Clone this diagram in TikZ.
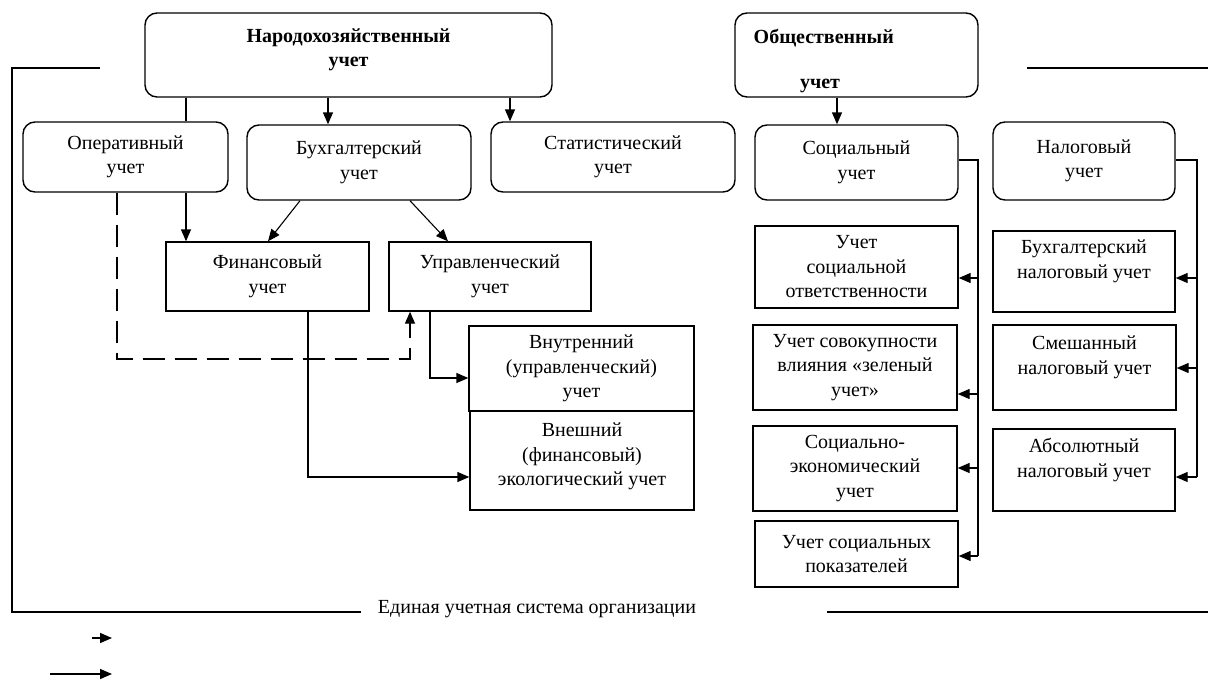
\documentclass[tikz,border=0pt]{standalone}
\usepackage{fontspec}
\setmainfont{Liberation Serif}
\usetikzlibrary{arrows.meta,calc}
\newcommand{\txtfont}{\fontsize{20}{24.5}\selectfont}
\begin{document}
\begin{tikzpicture}[x=1pt,y=-1pt, line width=1.4pt,
  every node/.style={font=\txtfont, inner sep=0pt, align=center},
  rbox/.style={draw, rounded corners=12pt, line width=1.4pt},
  sbox/.style={draw, line width=1.4pt},
  boldtxt/.style={font=\txtfont\bfseries},
  arr/.style={-{Triangle[length=12pt,width=10pt]}},
  dsh/.style={dash pattern=on 22pt off 10pt}]
\fill[white] (0,0) rectangle (1208,680);
\useasboundingbox (0,0) rectangle (1208,680);

% top level
\node[rbox, boldtxt, minimum width=407pt, minimum height=84pt] (nar) at (348.5,55) {Народохозяйственный\\учет\\[-10pt]\mbox{}};
\node[rbox, minimum width=243pt, minimum height=84pt] (obsh) at (856.5,55) {};
\node[boldtxt, anchor=west] (obshA) at (753,38) {Общественный};
\node[boldtxt] (obshB) at (820,86) {учет};

% second row
\node[rbox, minimum width=205pt, minimum height=70pt] (oper) at (125.5,157) {Оперативный\\учет};
\node[rbox, minimum width=224pt, minimum height=75pt] (buh) at (359,162.5) {Бухгалтерский\\учет};
\node[rbox, minimum width=244pt, minimum height=70pt] (stat) at (613,157) {Статистический\\учет};
\node[rbox, minimum width=203pt, minimum height=75pt] (soc) at (856.5,162.5) {Социальный\\учет};
\node[rbox, minimum width=182pt, minimum height=78pt] (nal) at (1084,161) {Налоговый\\учет};

% accounting subtree
\node[sbox, minimum width=203pt, minimum height=69pt] (fin) at (267.5,276.5) {Финансовый\\учет};
\node[sbox, minimum width=202pt, minimum height=69pt] (upr) at (490,276.5) {Управленческий\\учет};
\node[sbox, minimum width=225pt, minimum height=85pt] (vnut) at (581.5,368.5) {Внутренний\\(управленческий)\\учет};
\node[sbox, minimum width=224pt, minimum height=99pt] (vnesh) at (582,460.5) {Внешний\\(финансовый)\\экологический учет\\[-12pt]\mbox{}};

% social subtree
\node[sbox, minimum width=203pt, minimum height=82pt] (sotv) at (856.5,267) {Учет\\социальной\\ответственности};
\node[sbox, minimum width=204pt, minimum height=85pt] (sgreen) at (855,367.5) {Учет совокупности\\влияния «зеленый\\учет»};
\node[sbox, minimum width=204pt, minimum height=85pt] (sekon) at (855,468.5) {Социально-\\экономический\\учет};
\node[sbox, minimum width=203pt, minimum height=66pt] (spok) at (856.5,554) {Учет социальных\\показателей};

% tax subtree
\node[sbox, minimum width=182pt, minimum height=81pt] (nbuh) at (1084,271.5) {Бухгалтерский\\налоговый учет\\\mbox{}};
\node[sbox, minimum width=183pt, minimum height=85pt] (nsm) at (1084.5,367.5) {Смешанный\\налоговый учет\\\mbox{}};
\node[sbox, minimum width=182pt, minimum height=82pt] (nabs) at (1084,470) {Абсолютный\\налоговый учет\\\mbox{}};

% helper coordinates
\coordinate (c186) at (186,0);
\coordinate (c328) at (328,0);
\coordinate (c510) at (510,0);
\coordinate (c837) at (837,0);
\coordinate (b1) at (300,0);
\coordinate (f1) at (268,0);
\coordinate (b2) at (410,0);
\coordinate (u0) at (448,0);
\coordinate (d1) at (117,359);
\coordinate (d2) at (410,359);
\coordinate (u1) at (430,378);
\coordinate (f2) at (308,477);
\coordinate (s0) at (978,160);
\coordinate (s1) at (978,278);
\coordinate (s2) at (978,394);
\coordinate (s3) at (978,468);
\coordinate (s4) at (978,556);
\coordinate (t0) at (1197,160);
\coordinate (t1) at (1197,278);
\coordinate (t2) at (1197,368);
\coordinate (t3) at (1197,477);

% connectors from top
\draw (nar.south -| c186) -- (oper.north -| c186);
\draw[arr] (nar.south -| c328) -- (buh.north -| c328);
\draw[arr] (nar.south -| c510) -- (stat.north -| c510);
\draw[arr] (obsh.south -| c837) -- (soc.north -| c837);

% operational links
\draw[arr] (oper.south -| c186) -- (fin.north -| c186);
\draw[dsh, arr] (oper.south -| d1) -- (d1) -- (d2) -- (upr.south -| d2);

% accounting links
\draw[arr, line width=1.1pt] (buh.south -| b1) -- (fin.north -| f1);
\draw[arr, line width=1.1pt] (buh.south -| b2) -- (upr.north -| u0);
\draw[arr] (upr.south -| u1) -- (u1) -- (u1 -| vnut.west);
\draw[arr] (fin.south -| f2) -- (f2) -- (f2 -| vnesh.west);

% social spine
\draw (soc.east |- s0) -- (s0) -- (s4);
\draw[arr] (s1) -- (s1 -| sotv.east);
\draw[arr] (s2) -- (s2 -| sgreen.east);
\draw[arr] (s3) -- (s3 -| sekon.east);
\draw[arr] (s4) -- (s4 -| spok.east);

% tax spine
\draw (nal.east |- t0) -- (t0) -- (t3);
\draw[arr] (t1) -- (t1 -| nbuh.east);
\draw[arr] (t2) -- (t2 -| nsm.east);
\draw[arr] (t3) -- (t3 -| nabs.east);

% frame of the unified system
\coordinate (fr1) at (100,68);
\coordinate (fr2) at (12,68);
\coordinate (fr3) at (12,612);
\coordinate (fr4) at (361,612);
\coordinate (fr5) at (827,612);
\coordinate (fr6) at (1208,612);
\coordinate (fr7) at (1027,68);
\coordinate (fr8) at (1208,68);
\draw (fr1) -- (fr2) -- (fr3) -- (fr4);
\draw (fr5) -- (fr6);
\draw (fr7) -- (fr8);
\node[anchor=base] (frm) at (537,613) {Единая учетная система организации};

% legend
\coordinate (l1) at (92,638);
\coordinate (l2) at (112,638);
\coordinate (l3) at (50,674);
\coordinate (l4) at (112,674);
\draw[arr] (l1) -- (l2);
\draw[arr] (l3) -- (l4);
\end{tikzpicture}
\end{document}
